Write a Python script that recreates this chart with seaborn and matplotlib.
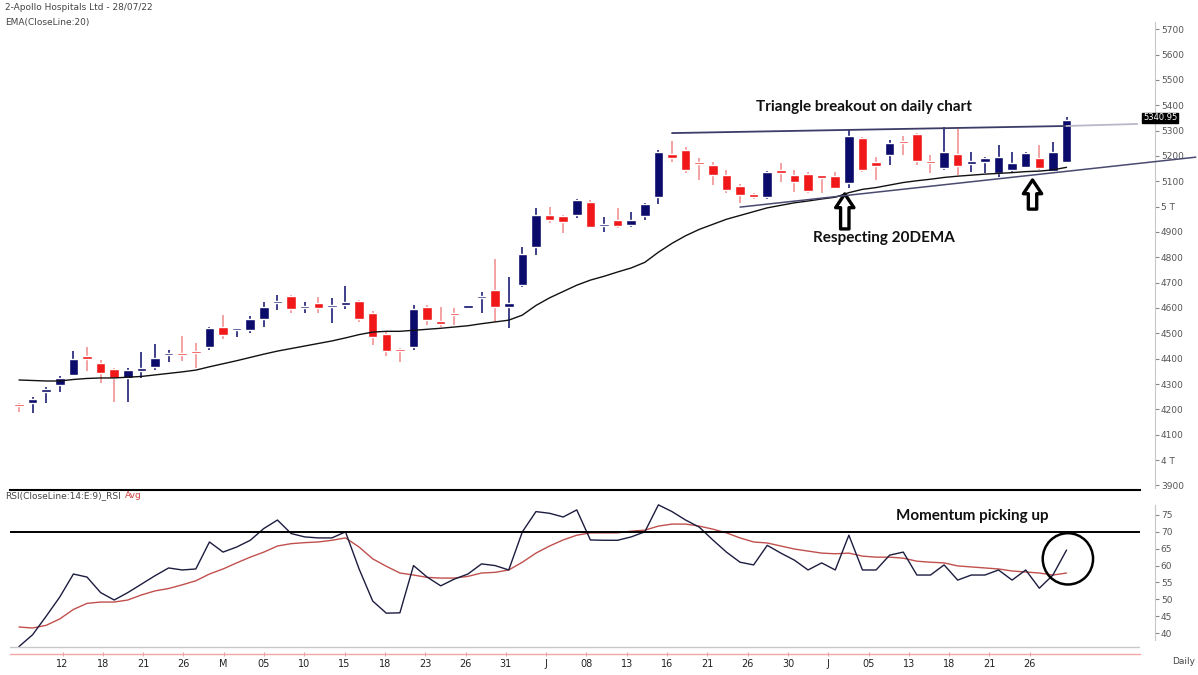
import numpy as np
import pandas as pd
import matplotlib
matplotlib.use("Agg")
import matplotlib.pyplot as plt
import seaborn as sns
from matplotlib.patches import Ellipse

# daily OHLC, one row per session
opens = [4222, 4225, 4270, 4297, 4335, 4410, 4383, 4360, 4325, 4351,
         4367, 4414, 4418, 4426, 4447, 4525, 4513, 4513, 4556, 4619,
         4647, 4598, 4619, 4603, 4611, 4627, 4580, 4497, 4438, 4446,
         4604, 4544, 4576, 4600, 4639, 4670, 4604, 4690, 4840, 4966,
         4962, 4966, 5018, 4923, 4947, 4927, 4962, 5037, 5207, 5223,
         5171, 5164, 5124, 5081, 5049, 5037, 5144, 5124, 5128, 5118,
         5120, 5093, 5270, 5175, 5203, 5258, 5286, 5175, 5152, 5207,
         5168, 5175, 5132, 5144, 5156, 5191, 5140, 5175]
closes = [4212, 4242, 4280, 4322, 4398, 4397, 4343, 4325, 4357, 4363,
          4402, 4418, 4414, 4421, 4520, 4493, 4517, 4556, 4603, 4623,
          4596, 4601, 4600, 4606, 4623, 4556, 4487, 4430, 4430, 4596,
          4553, 4538, 4572, 4604, 4643, 4604, 4620, 4813, 4966, 4947,
          4940, 5026, 4920, 4927, 4923, 4947, 5010, 5215, 5192, 5144,
          5167, 5124, 5065, 5045, 5037, 5136, 5132, 5097, 5061, 5114,
          5073, 5278, 5144, 5160, 5250, 5250, 5179, 5171, 5215, 5160,
          5175, 5191, 5195, 5171, 5211, 5152, 5215, 5341]
highs = [4225, 4248, 4290, 4330, 4430, 4445, 4395, 4365, 4362, 4426,
         4457, 4433, 4489, 4462, 4525, 4572, 4522, 4568, 4625, 4650,
         4650, 4623, 4643, 4640, 4686, 4633, 4590, 4505, 4442, 4611,
         4611, 4603, 4600, 4608, 4663, 4793, 4722, 4840, 4994, 5000,
         4966, 5030, 5025, 4959, 4994, 4978, 5015, 5225, 5260, 5235,
         5191, 5176, 5144, 5090, 5053, 5140, 5171, 5144, 5136, 5120,
         5136, 5302, 5275, 5195, 5262, 5278, 5292, 5205, 5314, 5306,
         5215, 5197, 5242, 5215, 5215, 5242, 5254, 5353]
lows = [4190, 4186, 4225, 4270, 4330, 4350, 4305, 4228, 4230, 4322,
        4355, 4387, 4390, 4365, 4435, 4478, 4485, 4500, 4525, 4592,
        4580, 4580, 4580, 4540, 4595, 4545, 4455, 4410, 4387, 4434,
        4532, 4525, 4532, 4595, 4580, 4545, 4522, 4682, 4809, 4935,
        4895, 4955, 4915, 4900, 4915, 4918, 4947, 5010, 5175, 5132,
        5105, 5085, 5053, 5014, 5030, 5030, 5097, 5057, 5053, 5053,
        5069, 5073, 5138, 5105, 5164, 5203, 5164, 5132, 5144, 5124,
        5136, 5132, 5116, 5136, 5152, 5144, 5136, 5171]

ema20 = [4316, 4314, 4312, 4312, 4318, 4322, 4324, 4324, 4327, 4330,
         4336, 4342, 4348, 4355, 4368, 4380, 4392, 4405, 4418, 4430,
         4440, 4450, 4460, 4470, 4482, 4495, 4505, 4508, 4508, 4512,
         4516, 4520, 4525, 4530, 4538, 4545, 4552, 4572, 4610, 4640,
         4665, 4690, 4710, 4725, 4742, 4758, 4780, 4820, 4855, 4885,
         4910, 4930, 4950, 4965, 4980, 4995, 5005, 5015, 5022, 5030,
         5037, 5055, 5068, 5075, 5085, 5095, 5102, 5108, 5115, 5120,
         5124, 5128, 5131, 5134, 5138, 5140, 5145, 5155]

rsi = [36, 39.5, 45, 50.7, 57.5, 56.6, 52, 49.8, 52, 54.5,
       57, 59.3, 58.7, 59, 67, 64, 65.5, 67.5, 71, 73.5,
       69.5, 68.5, 68.2, 68.2, 70, 59, 49.5, 45.9, 46, 60,
       56.6, 54, 56, 57.5, 60.5, 60, 58.7, 70, 76, 75.5,
       74.4, 76.5, 67.6, 67.5, 67.5, 68.5, 70, 78, 76, 73.5,
       71.4, 67.6, 64, 61, 60.2, 66, 63.7, 61.6, 58.7, 60.8,
       58.7, 69, 58.7, 58.7, 63.1, 64, 57.2, 57.2, 60.2, 55.7,
       57.2, 57.2, 58.7, 55.7, 58.7, 53.3, 57.2, 64.6]
rsi_avg = [41.8, 41.5, 42.3, 44.2, 47, 48.8, 49.2, 49.2, 49.8, 51.3,
           52.5, 53.2, 54.3, 55.5, 57.5, 59, 60.8, 62.5, 64, 65.8,
           66.5, 66.8, 67, 67.5, 68.2, 65.5, 62, 59.8, 57.8, 57.2,
           56.5, 56.3, 56.3, 56.8, 57.8, 58, 58.7, 61, 63.7, 65.8,
           67.6, 69, 69.7, 69.7, 69.7, 70.2, 70.5, 71.7, 72.3, 72.3,
           71.7, 70.8, 69.7, 68.2, 67, 66.7, 65.8, 64.9, 64.3, 63.7,
           63.5, 63.7, 62.8, 62.5, 62.5, 62.2, 61.3, 61, 60.8, 59.9,
           59.6, 59.3, 59, 58.4, 58.1, 57.8, 57.2, 57.8]

price_ticks = [3900, 4000, 4100, 4200, 4300, 4400, 4500, 4600, 4700, 4800,
               4900, 5000, 5100, 5200, 5300, 5400, 5500, 5600, 5700]
price_labels = ["3900", "4 T", "4100", "4200", "4300", "4400", "4500", "4600",
                "4700", "4800", "4900", "5 T", "5100", "5200", "5300", "5400",
                "5500", "5600", "5700"]
rsi_ticks = [40, 45, 50, 55, 60, 65, 70, 75]
date_labels = ["12", "18", "21", "26", "M", "05", "10", "15", "18", "23", "26",
               "31", "J", "08", "13", "16", "21", "26", "30", "J", "05", "13",
               "18", "21", "26"]

# triangle trendlines (bar index, price)
tri_upper = [(48, 5290), (77, 5318)]
tri_upper_ext = [(77, 5318), (82.2, 5326)]
tri_lower = [(53, 4998), (86.5, 5195)]

BLUE = "#0b0b6b"
RED = "#f01818"

df = pd.DataFrame({"open": opens, "close": closes, "high": highs, "low": lows,
                   "ema": ema20, "rsi": rsi, "rsi_avg": rsi_avg})
df["i"] = np.arange(len(df))
up = df["close"] >= df["open"]

sns.set_style("white")
plt.rcParams["font.family"] = ["DejaVu Sans"]

fig = plt.figure(figsize=(11.98, 6.75), dpi=100)
W, H = 1198, 675
ax = fig.add_axes([10 / W, 1 - 490 / H, 1130 / W, 490 / H])
ax2 = fig.add_axes([10 / W, 1 - 654 / H, 1130 / W, 164 / H], sharex=ax)

# ---- price panel ----
wick_col = np.where(up, BLUE, "#f08a8a")
body_col = np.where(up, BLUE, RED)
ax.vlines(df["i"], df["low"], df["high"], colors=wick_col, lw=1.1, zorder=2)
body_lo = df[["open", "close"]].min(axis=1)
body_h = (df["close"] - df["open"]).abs().clip(lower=10)
ax.bar(df["i"], body_h, bottom=body_lo, width=0.7, color=body_col, zorder=3)

sns.lineplot(x=df["i"], y=df["ema"], ax=ax, color="#111111", lw=1.0, zorder=4)

ax.plot(*zip(*tri_upper), color="#3c3c68", lw=1.3, zorder=4)
ax.plot(*zip(*tri_upper_ext), color="#b8b8c8", lw=1.3, zorder=4)
ax.plot(*zip(*tri_lower), color="#4a4a70", lw=1.1, zorder=4, clip_on=False)

ax.set_xlim(-0.66, 82.4)
ax.set_ylim(3882, 5815)
ax.set_xlabel("")
ax.set_ylabel("")
ax.yaxis.tick_right()
ax.set_yticks(price_ticks)
ax.set_yticklabels(price_labels)
ax.tick_params(axis="y", length=3, width=0.8, colors="#888888", labelsize=6.5,
               labelcolor="#555555", pad=1, right=True, left=False)
ax.tick_params(axis="x", bottom=False, labelbottom=False)
for s in ["left", "top", "bottom"]:
    ax.spines[s].set_visible(False)
ax.spines["right"].set_position(("outward", 11))
ax.spines["right"].set_color("#c8c8c8")
ax.spines["right"].set_bounds(3890, 5730)

# last price box, sits between the 5300 and 5400 labels
ax.text(82.62, 5350, "5340.95", color="white", fontsize=6, ha="left", va="center",
        clip_on=False, zorder=6,
        bbox=dict(boxstyle="square,pad=0.1", fc="black", ec="black"))

# annotations
ann_font = dict(family="Lato", fontsize=11, weight="bold", color="#111111")
ax.text(62.1, 5393, "Triangle breakout on daily chart", ha="center", va="center", **ann_font)
ax.text(63.6, 4876, "Respecting 20DEMA", ha="center", va="center", **ann_font)
arrow_kw = dict(arrowstyle="simple,head_width=1.2,head_length=0.9,tail_width=0.55",
                fc="white", ec="black", lw=2.4, mutation_scale=11, shrinkA=0, shrinkB=0)
ax.annotate("", xy=(60.7, 5050), xytext=(60.7, 4912), arrowprops=arrow_kw)
ax.annotate("", xy=(74.5, 5105), xytext=(74.5, 4990), arrowprops=arrow_kw)

fig.text(5 / W, 1 - 8 / H, "2-Apollo Hospitals Ltd - 28/07/22", fontsize=6.5,
         color="#444444", va="center")
fig.text(5 / W, 1 - 22 / H, "EMA(CloseLine:20)", fontsize=6.5, color="#444444", va="center")

# ---- RSI panel ----
sns.lineplot(x=df["i"], y=df["rsi_avg"], ax=ax2, color="#c0504d", lw=1.0)
sns.lineplot(x=df["i"], y=df["rsi"], ax=ax2, color="#1c1c40", lw=1.0)
ax2.axhline(70, color="black", lw=1.4)
ax2.axhline(35.9, color="#c8c8c8", lw=1.0)

ax2.set_ylim(33.8, 82.4)
ax2.set_xlabel("")
ax2.set_ylabel("")
ax2.yaxis.tick_right()
ax2.set_yticks(rsi_ticks)
ax2.tick_params(axis="y", length=3, width=0.8, colors="#888888", labelsize=6.5,
                labelcolor="#555555", pad=1, right=True, left=False)
ax2.set_xticks(np.linspace(3.2, 74.3, len(date_labels)))
ax2.set_xticklabels(date_labels)
ax2.tick_params(axis="x", length=3, width=0.8, colors="#e8a0a0", labelsize=7,
                labelcolor="#222222", pad=2, bottom=True, direction="inout")
ax2.spines["left"].set_visible(False)
ax2.spines["top"].set_color("black")
ax2.spines["top"].set_linewidth(1.5)
ax2.spines["bottom"].set_color("#f2a8a8")
ax2.spines["bottom"].set_linewidth(1.0)
ax2.spines["right"].set_position(("outward", 11))
ax2.spines["right"].set_color("#c8c8c8")
ax2.spines["right"].set_bounds(38, 78)

ax2.text(70.1, 74.7, "Momentum picking up", ha="center", va="center", **ann_font)
ax2.add_patch(Ellipse((77.1, 62.0), 3.7, 15.2, fill=False, ec="black", lw=1.8,
                      clip_on=False, zorder=5))

rsi_lbl = fig.text(5 / W, 1 - 496 / H, "RSI(CloseLine:14:E:9)_RSI", fontsize=6.5,
                   color="#444444", va="center")
fig.canvas.draw()
bb = rsi_lbl.get_window_extent()
fig.text((bb.x1 + 4) / W, 1 - 496 / H, "Avg", fontsize=6.5, color="#d04040", va="center")
fig.text(1172 / W, 1 - 662 / H, "Daily", fontsize=6.5, color="#444444", va="center")

fig.savefig("out.png", dpi=100)
